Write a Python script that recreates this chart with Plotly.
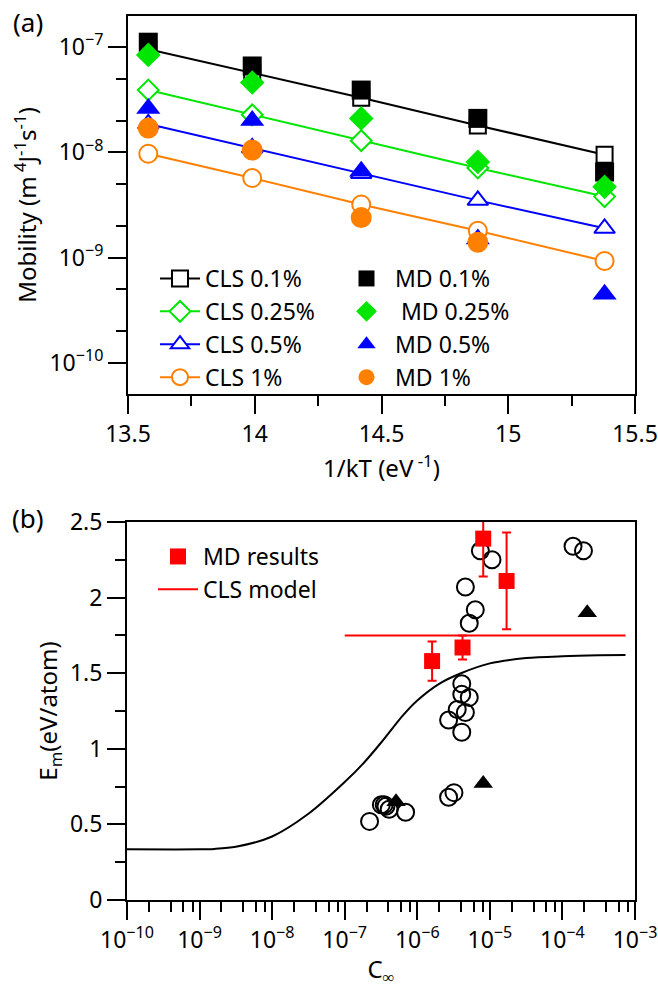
import plotly.graph_objects as go

# ---------- panel (a) data ----------
inv_kT = [13.58, 13.99, 14.42, 14.88, 15.38]
cls_01 = [9.5e-8, 5.7e-8, 3.3e-8, 1.8e-8, 9.5e-9]
cls_025 = [3.9e-8, 2.27e-8, 1.29e-8, 7.1e-9, 3.8e-9]
cls_05 = [1.86e-8, 1.1e-8, 6.3e-9, 3.5e-9, 1.9e-9]
cls_1 = [9.7e-9, 5.7e-9, 3.2e-9, 1.8e-9, 9.3e-10]
md_01 = [1.11e-7, 6.6e-8, 3.9e-8, 2.1e-8, 6.5e-9]
md_025 = [8.4e-8, 4.6e-8, 2.1e-8, 8.1e-9, 4.7e-9]
md_05 = [2.6e-8, 2.0e-8, 6.6e-9, 1.5e-9, 4.5e-10]
md_1_x = [13.58, 13.99, 14.42, 14.88]
md_1 = [1.7e-8, 1.05e-8, 2.4e-9, 1.4e-9]
a_x_ticks = [13.5, 14, 14.5, 15, 15.5]
a_x_labels = ["13.5", "14", "14.5", "15", "15.5"]
a_y_ticks = [1e-10, 1e-9, 1e-8, 1e-7]
a_y_labels = ["10<sup>−10</sup>", "10<sup>−9</sup>", "10<sup>−8</sup>", "10<sup>−7</sup>"]

# ---------- panel (b) data ----------
circ_c = [7.4e-6, 1.07e-5, 4.6e-6, 6.3e-6, 5.2e-6, 1.4e-4, 1.95e-4,
          4.1e-6, 4.1e-6, 5.2e-6, 3.55e-6, 4.6e-6, 2.7e-6, 4.1e-6,
          2.2e-7, 3.2e-7, 3.5e-7, 3.7e-7, 4.1e-7, 6.9e-7, 2.7e-6, 3.2e-6]
circ_e = [2.31, 2.25, 2.07, 1.92, 1.83, 2.34, 2.31,
          1.43, 1.36, 1.34, 1.26, 1.24, 1.19, 1.11,
          0.52, 0.63, 0.63, 0.62, 0.60, 0.58, 0.68, 0.71]
tri_c = [2.2e-4, 5.1e-7, 8.1e-6]
tri_e = [1.90, 0.65, 0.77]
md_c = [8.1e-6, 1.7e-5, 4.2e-6, 1.6e-6]
md_e = [2.39, 2.11, 1.67, 1.58]
md_err = [0.25, 0.32, 0.08, 0.13]
model_c = [1e-7, 7.4e-4]
model_e = [1.75, 1.75]
curve_c = [1e-10, 1e-9, 1.6e-9, 3.16e-9, 1e-8, 3.16e-8, 1e-7, 1.78e-7, 3.16e-7, 6.3e-7,
           1e-6, 2e-6, 4e-6, 1e-5, 3.16e-5, 1e-4, 3.16e-4, 7.4e-4]
curve_e = [0.335, 0.335, 0.338, 0.352, 0.42, 0.57, 0.78, 0.90, 1.04, 1.22,
           1.32, 1.43, 1.50, 1.565, 1.60, 1.612, 1.618, 1.62]
b_x_ticks = [1e-10, 1e-9, 1e-8, 1e-7, 1e-6, 1e-5, 1e-4, 1e-3]
b_x_labels = ["10<sup>−10</sup>", "10<sup>−9</sup>", "10<sup>−8</sup>", "10<sup>−7</sup>",
              "10<sup>−6</sup>", "10<sup>−5</sup>", "10<sup>−4</sup>", "10<sup>−3</sup>"]
b_y_ticks = [0, 0.5, 1, 1.5, 2, 2.5]
b_y_labels = ["0", "0.5", "1", "1.5", "2", "2.5"]

FONT = "Noto Sans"
GREEN = "#00e600"
ORANGE = "#ff8000"
BLUE = "#0000ff"

fig = go.Figure()

def cls_trace(y, color, symbol, name, size):
    return go.Scatter(x=inv_kT, y=y, mode="lines+markers", name=name,
                      line=dict(color=color, width=2),
                      marker=dict(symbol=symbol, size=size, color="white",
                                  line=dict(color=color, width=2)),
                      xaxis="x", yaxis="y", legend="legend")

fig.add_trace(cls_trace(cls_01, "black", "square", "CLS 0.1%", 16))
fig.add_trace(cls_trace(cls_025, GREEN, "diamond", "CLS 0.25%", 16))
fig.add_trace(cls_trace(cls_05, BLUE, "triangle-up", "CLS 0.5%", 18))
fig.add_trace(cls_trace(cls_1, ORANGE, "circle", "CLS 1%", 18))

def md_trace(x, y, color, symbol, name, size):
    return go.Scatter(x=x, y=y, mode="markers", name=name,
                      marker=dict(symbol=symbol, size=size, color=color),
                      xaxis="x", yaxis="y", legend="legend2")

fig.add_trace(md_trace(inv_kT, md_01, "black", "square", "MD 0.1%", 19))
fig.add_trace(md_trace(inv_kT, md_025, GREEN, "diamond", " MD 0.25%", 19))
fig.add_trace(md_trace(inv_kT, md_05, BLUE, "triangle-up", "MD 0.5%", 21))
fig.add_trace(md_trace(md_1_x, md_1, ORANGE, "circle", "MD 1%", 21))

# panel (b)
fig.add_trace(go.Scatter(x=curve_c, y=curve_e, mode="lines", line=dict(color="black", width=2, shape="spline", smoothing=0.8),
                         showlegend=False, xaxis="x2", yaxis="y2"))
fig.add_trace(go.Scatter(x=circ_c, y=circ_e, mode="markers", showlegend=False,
                         marker=dict(symbol="circle-open", size=17, color="black", line=dict(width=2)),
                         xaxis="x2", yaxis="y2"))
fig.add_trace(go.Scatter(x=tri_c, y=tri_e, mode="markers", showlegend=False,
                         marker=dict(symbol="triangle-up", size=17, color="black"),
                         xaxis="x2", yaxis="y2"))
fig.add_trace(go.Scatter(x=model_c, y=model_e, mode="lines", name="CLS model", legendrank=2,
                         line=dict(color="red", width=2), xaxis="x2", yaxis="y2", legend="legend3"))
fig.add_trace(go.Scatter(x=md_c, y=md_e, mode="markers", name="MD results", legendrank=1,
                         marker=dict(symbol="square", size=16, color="red"),
                         error_y=dict(type="data", array=md_err, color="red", thickness=2, width=4.5),
                         cliponaxis=False, xaxis="x2", yaxis="y2", legend="legend3"))

TICKFONT = dict(family=FONT, size=23, color="black")
TITLEFONT = dict(family=FONT, size=24, color="black")
axis_common = dict(showline=True, linecolor="black", linewidth=2, mirror=True,
                   ticks="outside", ticklen=18, tickwidth=2, tickcolor="black",
                   showgrid=False, zeroline=False, automargin=False,
                   tickmode="array", tickfont=TICKFONT)
minor_common = dict(ticklen=10, tickwidth=2, tickcolor="black", ticks="outside", showgrid=False)

minor_a_y = [k * 10.0 ** e for e in range(-11, -6) for k in (2, 5)]
minor_b_x = [k * 10.0 ** e for e in range(-10, -3) for k in (2, 4, 6, 8)]

LEG = dict(xanchor="left", yanchor="top", bgcolor="rgba(0,0,0,0)",
           font=dict(family=FONT, size=23, color="black"), tracegroupgap=0)

fig.update_layout(
    template="none",
    width=658, height=993, margin=dict(l=0, r=0, t=0, b=0, autoexpand=False),
    paper_bgcolor="white", plot_bgcolor="white",
    font=dict(family=FONT, size=23, color="black"),
    xaxis=dict(domain=[128/658, 635/658], anchor="y", range=[13.5, 15.5],
               tickvals=a_x_ticks, ticktext=a_x_labels,
               minor=dict(tickvals=[13.75, 14.25, 14.75, 15.25], **minor_common),
               title=dict(text="1/kT (eV<sup> -1</sup>)", font=TITLEFONT, standoff=8),
               **axis_common),
    yaxis=dict(domain=[1 - 394/993, 1 - 16/993], anchor="x", type="log",
               range=[-10.294, -6.706], tickvals=a_y_ticks, ticktext=a_y_labels,
               minor=dict(tickvals=minor_a_y, **minor_common),
               title=dict(text="Mobility (m<sup> 4</sup>J<sup>-1</sup>s<sup>-1</sup>)", font=TITLEFONT, standoff=6),
               **axis_common),
    xaxis2=dict(domain=[127/658, 635/658], anchor="y2", type="log", range=[-10, -3],
                tickvals=b_x_ticks, ticktext=b_x_labels,
                minor=dict(tickvals=minor_b_x, **minor_common),
                title=dict(text="C<sub>∞</sub>", font=TITLEFONT, standoff=8),
                **axis_common),
    yaxis2=dict(domain=[1 - 900/993, 1 - 522/993], anchor="x2", range=[0, 2.5],
                tickvals=b_y_ticks, ticktext=b_y_labels,
                minor=dict(tickvals=[0.25, 0.75, 1.25, 1.75, 2.25], **minor_common),
                title=dict(text="E<sub>m</sub>(eV/atom)", font=TITLEFONT, standoff=6),
                **axis_common),
    legend=dict(x=155/658, y=1 - 257/993, itemwidth=40, **LEG),
    legend2=dict(x=338/658, y=1 - 257/993, itemwidth=47, **LEG),
    legend3=dict(x=153/658, y=1 - 535/993, itemwidth=40, **LEG),
    annotations=[
        dict(text="(a)", x=28/658, y=1 - 22/993, xref="paper", yref="paper", showarrow=False,
             font=dict(family=FONT, size=26), xanchor="center", yanchor="middle"),
        dict(text="(b)", x=28/658, y=1 - 518/993, xref="paper", yref="paper", showarrow=False,
             font=dict(family=FONT, size=26), xanchor="center", yanchor="middle"),
    ],
)

fig.write_html("out.html")
